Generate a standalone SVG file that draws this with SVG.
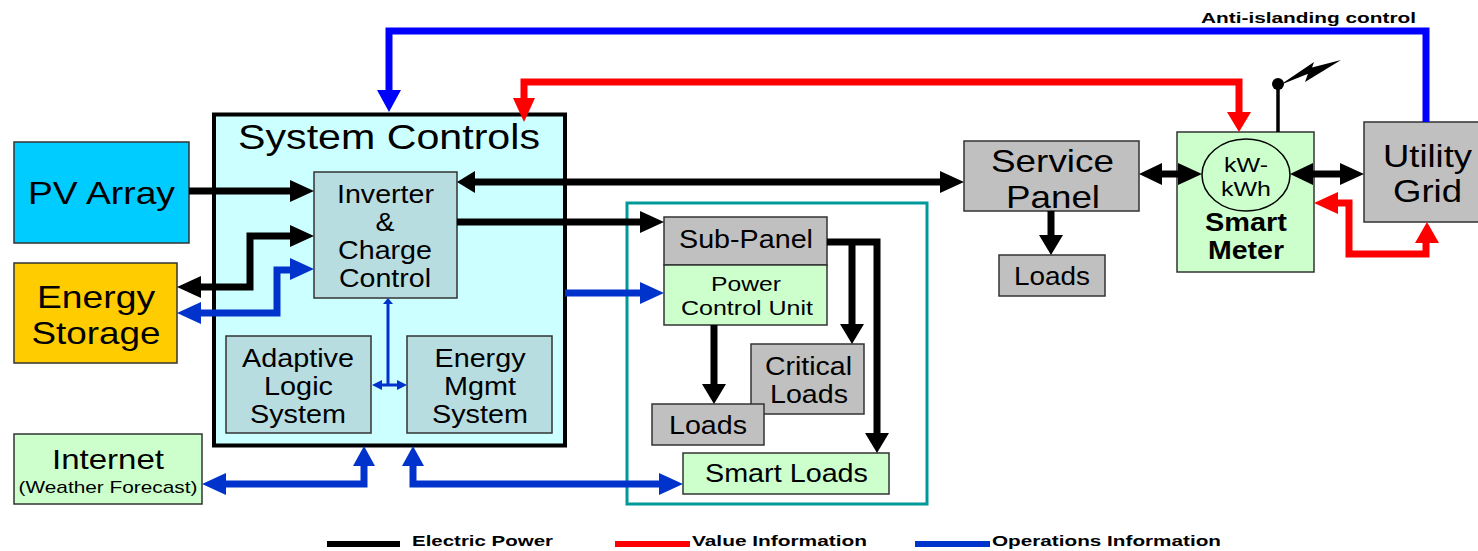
<svg xmlns="http://www.w3.org/2000/svg" width="1478" height="551" viewBox="0 0 1478 551">
<style>
text{font-family:"Liberation Sans",Arial,sans-serif;text-anchor:middle;fill:#000}
.b{stroke:#333;stroke-width:1.5}
.pv{fill:#00ccff}.es{fill:#ffcc00}.gn{fill:#ccffcc}.gy{fill:#c0c0c0}.tl{fill:#b8dde0}
.k,.r,.u,.o,.t{fill:none;stroke-linejoin:miter}
.k{stroke:#000;stroke-width:7}.r{stroke:#f00;stroke-width:7}.u{stroke:#0033cc;stroke-width:7}.o{stroke:#00f;stroke-width:7}.t{stroke:#0033cc;stroke-width:3}
.ah-k{fill:#000}.ah-r{fill:#f00}.ah-u{fill:#0033cc}.ah-o{fill:#00f}
.lg{font-weight:bold;font-size:15.5px;text-anchor:start}
</style>
<g id="sysctl"><rect x="214" y="114.500" width="351" height="331" fill="#ccffff" stroke="#000" stroke-width="4"/><text x="389" y="149" font-size="35" textLength="302" lengthAdjust="spacingAndGlyphs">System Controls</text></g>
<g id="pv"><rect class="pv b" x="14" y="142" width="175" height="101"/><text x="101.500" y="204" font-size="32" textLength="147" lengthAdjust="spacingAndGlyphs">PV Array</text></g>
<g id="storage"><rect class="es b" x="14" y="263" width="163" height="100"/><text x="96" y="308" font-size="32" textLength="118" lengthAdjust="spacingAndGlyphs">Energy</text><text x="96" y="344" font-size="32" textLength="129" lengthAdjust="spacingAndGlyphs">Storage</text></g>
<g id="internet"><rect class="gn b" x="14" y="434" width="188" height="70"/><text x="108" y="469" font-size="28" textLength="112" lengthAdjust="spacingAndGlyphs">Internet</text><text x="108" y="493" font-size="17" textLength="179" lengthAdjust="spacingAndGlyphs">(Weather Forecast)</text></g>
<g id="inverter"><rect class="tl b" x="314" y="172" width="143" height="126"/><text x="385.500" y="203" font-size="25" textLength="97" lengthAdjust="spacingAndGlyphs">Inverter</text><text x="385" y="231" font-size="25" textLength="19" lengthAdjust="spacingAndGlyphs">&amp;</text><text x="385" y="259" font-size="25" textLength="94" lengthAdjust="spacingAndGlyphs">Charge</text><text x="385" y="287" font-size="25" textLength="92" lengthAdjust="spacingAndGlyphs">Control</text></g>
<g id="adaptive"><rect class="tl b" x="226" y="336" width="145" height="97"/><text x="298" y="367" font-size="25" textLength="112" lengthAdjust="spacingAndGlyphs">Adaptive</text><text x="298.500" y="395" font-size="25" textLength="69" lengthAdjust="spacingAndGlyphs">Logic</text><text x="298" y="423" font-size="25" textLength="96" lengthAdjust="spacingAndGlyphs">System</text></g>
<g id="mgmt"><rect class="tl b" x="407" y="336" width="145" height="97"/><text x="480" y="367" font-size="25" textLength="91" lengthAdjust="spacingAndGlyphs">Energy</text><text x="480" y="395" font-size="25" textLength="72" lengthAdjust="spacingAndGlyphs">Mgmt</text><text x="480" y="423" font-size="25" textLength="96" lengthAdjust="spacingAndGlyphs">System</text></g>
<g id="home"><rect x="627" y="203" width="300" height="301" fill="none" stroke="#009999" stroke-width="3"/></g>
<g id="subpanel"><rect class="gy b" x="664" y="217" width="163" height="48"/><text x="746" y="248" font-size="25" textLength="134" lengthAdjust="spacingAndGlyphs">Sub-Panel</text></g>
<g id="pcu"><rect class="gn b" x="664" y="265" width="163" height="60"/><text x="746" y="291" font-size="21" textLength="70" lengthAdjust="spacingAndGlyphs">Power</text><text x="747" y="315" font-size="21" textLength="132" lengthAdjust="spacingAndGlyphs">Control Unit</text></g>
<g id="critical"><rect class="gy b" x="751" y="344" width="113" height="70"/><text x="808.500" y="375" font-size="25" textLength="87" lengthAdjust="spacingAndGlyphs">Critical</text><text x="809" y="403" font-size="25" textLength="78" lengthAdjust="spacingAndGlyphs">Loads</text></g>
<g id="loads1"><rect class="gy b" x="652" y="404" width="112" height="41"/><text x="708" y="434" font-size="25" textLength="78" lengthAdjust="spacingAndGlyphs">Loads</text></g>
<g id="smartloads"><rect class="gn b" x="683" y="453" width="206" height="41"/><text x="786.500" y="482" font-size="25" textLength="163" lengthAdjust="spacingAndGlyphs">Smart Loads</text></g>
<g id="service"><rect class="gy b" x="964" y="141" width="175" height="70"/><text x="1052.500" y="172" font-size="32" textLength="123" lengthAdjust="spacingAndGlyphs">Service</text><text x="1053" y="208" font-size="32" textLength="94" lengthAdjust="spacingAndGlyphs">Panel</text></g>
<g id="loads2"><rect class="gy b" x="999" y="255" width="106" height="41"/><text x="1052" y="285" font-size="25" textLength="76" lengthAdjust="spacingAndGlyphs">Loads</text></g>
<g id="meter"><rect class="gn b" x="1177" y="132" width="137" height="140"/><ellipse cx="1246" cy="175" rx="44" ry="36" fill="#ccffcc" stroke="#000" stroke-width="1.500"/><text x="1246" y="172" font-size="21" textLength="44" lengthAdjust="spacingAndGlyphs">kW-</text><text x="1246" y="196" font-size="21" textLength="50" lengthAdjust="spacingAndGlyphs">kWh</text><text x="1246" y="231" font-size="25" font-weight="bold" textLength="82" lengthAdjust="spacingAndGlyphs">Smart</text><text x="1246" y="259" font-size="25" font-weight="bold" textLength="76" lengthAdjust="spacingAndGlyphs">Meter</text></g>
<g id="grid"><rect class="gy b" x="1364" y="122" width="116" height="100"/><text x="1427.500" y="167" font-size="32" textLength="89" lengthAdjust="spacingAndGlyphs">Utility</text><text x="1427.500" y="202" font-size="32" textLength="69" lengthAdjust="spacingAndGlyphs">Grid</text></g>
<g id="connectors">
<path class="o" d="M1426 122V31H389V90"/><polygon class="ah-o" points="377,90 401,90 389,112"/>
<path class="r" d="M524 100V82H1239V112"/><polygon class="ah-r" points="513,98 535,98 524,122"/><polygon class="ah-r" points="1227,112 1251,112 1239,132"/>
<path class="k" d="M189 191H296"/><polygon class="ah-k" points="290,180 314,191 290,202"/>
<path class="k" d="M475 182H946"/><polygon class="ah-k" points="475,171 457,182 475,193"/><polygon class="ah-k" points="940,171 964,182 940,193"/>
<path class="k" d="M195 287H250V236H296"/><polygon class="ah-k" points="201,276 177,287 201,298"/><polygon class="ah-k" points="290,225 314,236 290,247"/>
<path class="u" d="M195 313H277V270H296"/><polygon class="ah-u" points="201,302 177,313 201,324"/><polygon class="ah-u" points="290,258 314,269 290,280"/>
<path class="k" d="M457 222H646"/><polygon class="ah-k" points="640,211 664,222 640,233"/>
<path class="u" d="M565 293H646"/><polygon class="ah-u" points="640,282 664,293 640,304"/>
<path class="k" d="M827 242H877V436M852 242V326"/><polygon class="ah-k" points="840,324 864,324 852,344"/><polygon class="ah-k" points="865,433 889,433 877,453"/>
<path class="k" d="M714 325V385"/><polygon class="ah-k" points="702,384 726,384 714,404"/>
<path class="k" d="M1051 211V238"/><polygon class="ah-k" points="1039,235 1063,235 1051,255"/>
<path class="k" d="M1155 174H1185"/><polygon class="ah-k" points="1162,163 1139,174 1162,185"/><polygon class="ah-k" points="1178,163 1202,174 1178,185"/>
<path class="k" d="M1305 174H1350"/><polygon class="ah-k" points="1313,163 1290,174 1313,185"/><polygon class="ah-k" points="1340,163 1364,174 1340,185"/>
<path class="r" d="M1333 203H1349V254H1426V240"/><polygon class="ah-r" points="1338,192 1314,203 1338,214"/><polygon class="ah-r" points="1415,243 1439,243 1427,222"/>
<path class="u" d="M220 484H364V464"/><polygon class="ah-u" points="226,473 202,484 226,495"/><polygon class="ah-u" points="353,466 375,466 364,446"/>
<path class="u" d="M413 464V484H665"/><polygon class="ah-u" points="402,466 424,466 413,446"/><polygon class="ah-u" points="659,473 683,484 659,495"/>
<path class="t" d="M388 302V385M378 385H401"/><polygon class="ah-u" points="383,304 393,304 388,298"/><polygon class="ah-u" points="382,380 382,390 372,385"/><polygon class="ah-u" points="397,380 397,390 407,385"/>
<path d="M1278 132V85" fill="none" stroke="#000" stroke-width="3.500"/><circle cx="1278" cy="84" r="6" fill="#000"/>
<path d="M1280 85L1314 62L1310 73ZM1305 82L1310 68L1341 60Z" fill="#000"/>
</g>
<g id="legend">
<path d="M327 544H400" stroke="#000" stroke-width="6"/><text class="lg" x="412" y="546" textLength="141" lengthAdjust="spacingAndGlyphs">Electric Power</text>
<path d="M615 544H690" stroke="#f00" stroke-width="6"/><text class="lg" x="692" y="546" textLength="175" lengthAdjust="spacingAndGlyphs">Value Information</text>
<path d="M915 544H990" stroke="#0033cc" stroke-width="6"/><text class="lg" x="992" y="546" textLength="229" lengthAdjust="spacingAndGlyphs">Operations Information</text>
<text class="lg" x="1201" y="23" textLength="215" lengthAdjust="spacingAndGlyphs">Anti-islanding control</text>
</g>
</svg>
